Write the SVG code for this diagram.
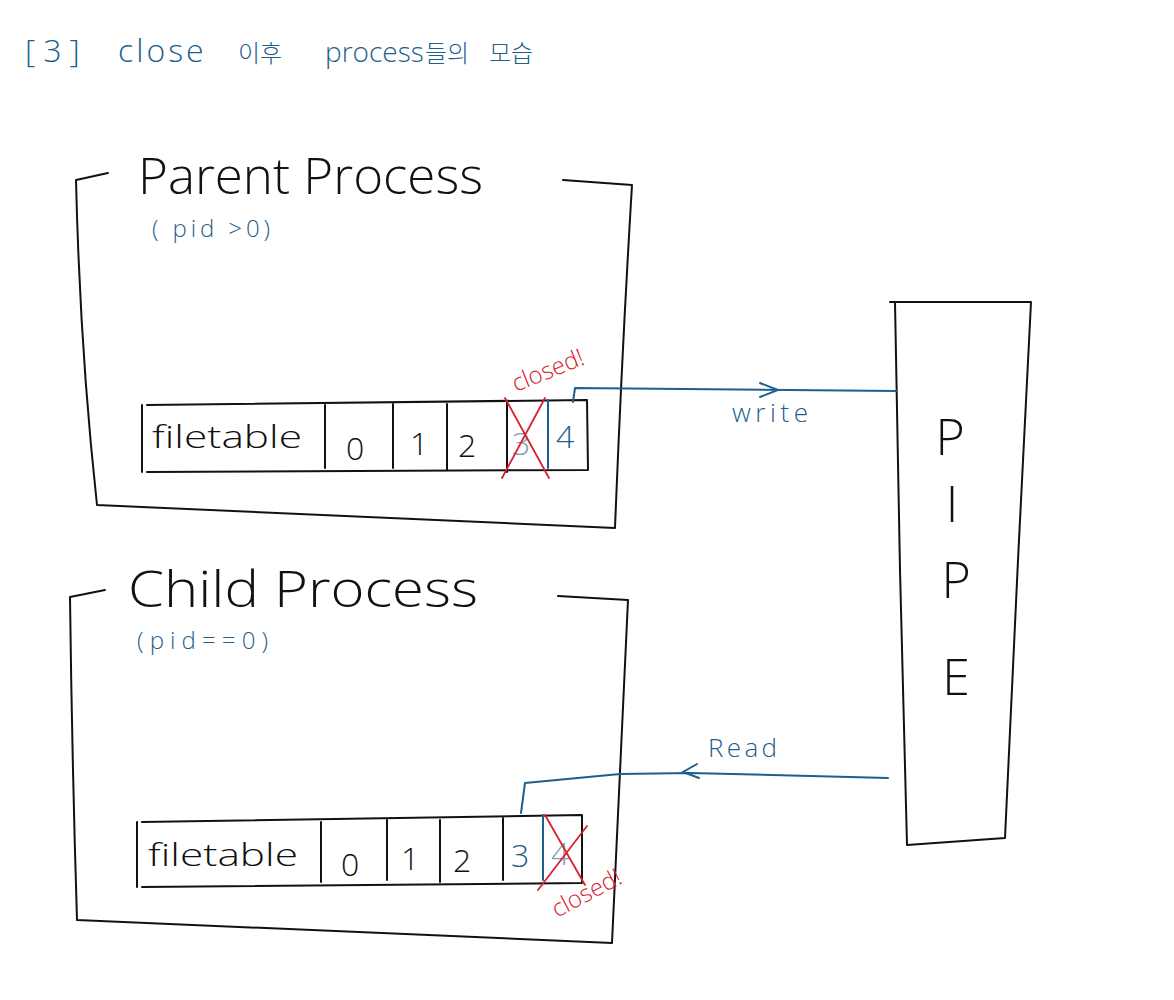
<svg xmlns="http://www.w3.org/2000/svg" width="1174" height="1000" viewBox="0 0 1174 1000">
<defs>
<style>
.ink{fill:none;stroke:#111;stroke-width:2;stroke-linecap:round;stroke-linejoin:round}
.blue{fill:none;stroke:#1f5f8b;stroke-width:2;stroke-linecap:round;stroke-linejoin:round}
.red{fill:none;stroke:#d8202e;stroke-width:1.8;stroke-linecap:round}
.t{font-family:"Open Sans","Liberation Sans","Noto Sans CJK KR",sans-serif;font-weight:300}
.big{font-size:50px;fill:#111}
.cell{font-size:32px;fill:#111}
.bl{fill:#1f5f8b}
.rd{fill:#d8202e}
</style>
</defs>
<rect width="1174" height="1000" fill="#fff"/>

<g id="title">
<text class="t bl" font-size="32" y="62"><tspan x="25" letter-spacing="8">[3]</tspan><tspan x="118" letter-spacing="3">close</tspan><tspan x="238" font-size="24">이후</tspan><tspan x="325" font-size="28">process</tspan><tspan x="425" font-size="24">들의</tspan><tspan x="489" font-size="24">모습</tspan></text>
</g>

<g id="parent">
<path class="ink" d="M108,173 L76,180 Q80,350 97,505 L615,528 Q622,350 632,185 L563,180"/>
<text class="t big" x="138" y="194" textLength="345" lengthAdjust="spacingAndGlyphs">Parent Process</text>
<text class="t bl" x="152" y="237" font-size="24" textLength="118" lengthAdjust="spacing">( pid &gt;0)</text>
</g>

<g id="parent-filetable">
<path class="ink" d="M147,405 L587,400 L588,470 L147,472 M142,405 L142,472"/>
<path class="ink" d="M325,405 L325,468 M393,404 L393,468 M447,404 L447,470"/>
<path class="ink" d="M507,402 L507,472"/>
<path class="blue" d="M548,400 L548,468"/>
<text class="t cell" x="152" y="448" textLength="150" lengthAdjust="spacingAndGlyphs">filetable</text>
<text class="t cell" x="346" y="460">0</text>
<text class="t cell" x="410" y="455">1</text>
<text class="t cell" x="458" y="457">2</text>
<text class="t bl" x="512" y="455" font-size="32" opacity="0.6">3</text>
<text class="t bl" x="556" y="448" font-size="32">4</text>
<path class="red" d="M505,398 L549,478 M545,398 L502,478"/>
<text class="t rd" x="0" y="0" font-size="24" transform="translate(516,392) rotate(-22)">closed!</text>
</g>

<g id="pipe">
<path class="ink" d="M890,302 L1031,302 L1018,560 L1005,838 L907,845 L900,570 L895,302"/>
<text class="t big" x="950" y="455" text-anchor="middle">P</text>
<text class="t big" x="952" y="522" text-anchor="middle">I</text>
<text class="t big" x="956" y="598" text-anchor="middle">P</text>
<text class="t big" x="956" y="695" text-anchor="middle">E</text>
</g>

<g id="child">
<path class="ink" d="M105,590 L70,597 Q72,760 77,920 L612,943 Q620,770 628,600 L558,596"/>
<text class="t big" x="128" y="607" textLength="350" lengthAdjust="spacingAndGlyphs">Child Process</text>
<text class="t bl" x="137" y="649" font-size="24" textLength="131" lengthAdjust="spacing">(pid==0)</text>
</g>

<g id="child-filetable">
<path class="ink" d="M142,822 L582,815 L582,883 L142,887 M137,822 L137,887"/>
<path class="ink" d="M321,822 L321,882 M387,820 L387,880 M440,820 L440,882 M503,818 L503,880"/>
<path class="blue" d="M543,815 L543,880"/>
<text class="t cell" x="148" y="866" textLength="150" lengthAdjust="spacingAndGlyphs">filetable</text>
<text class="t cell" x="341" y="876">0</text>
<text class="t cell" x="401" y="870">1</text>
<text class="t cell" x="453" y="872">2</text>
<text class="t bl" x="511" y="867" font-size="32">3</text>
<text class="t bl" x="551" y="865" font-size="32" opacity="0.6">4</text>
<path class="red" d="M545,815 L585,885 M587,826 L538,890"/>
<text class="t rd" x="0" y="0" font-size="24" transform="translate(557,918) rotate(-28)">closed!</text>
</g>

<g id="connectors">
<path class="blue" d="M573,402 L575,388 L897,391"/>
<path d="M760,383 L778,390 L760,397" fill="none" stroke="#1f5f8b" stroke-width="2" stroke-linecap="round"/>
<text class="t bl" x="732" y="422" font-size="26" textLength="76" lengthAdjust="spacing">write</text>

<path class="blue" d="M888,778 L690,773 L620,774 L525,783 L521,813"/>
<path d="M697,764 L683,772 L699,778" fill="none" stroke="#1f5f8b" stroke-width="2" stroke-linecap="round"/>
<text class="t bl" x="708" y="757" font-size="26" textLength="69" lengthAdjust="spacing">Read</text>
</g>
</svg>
